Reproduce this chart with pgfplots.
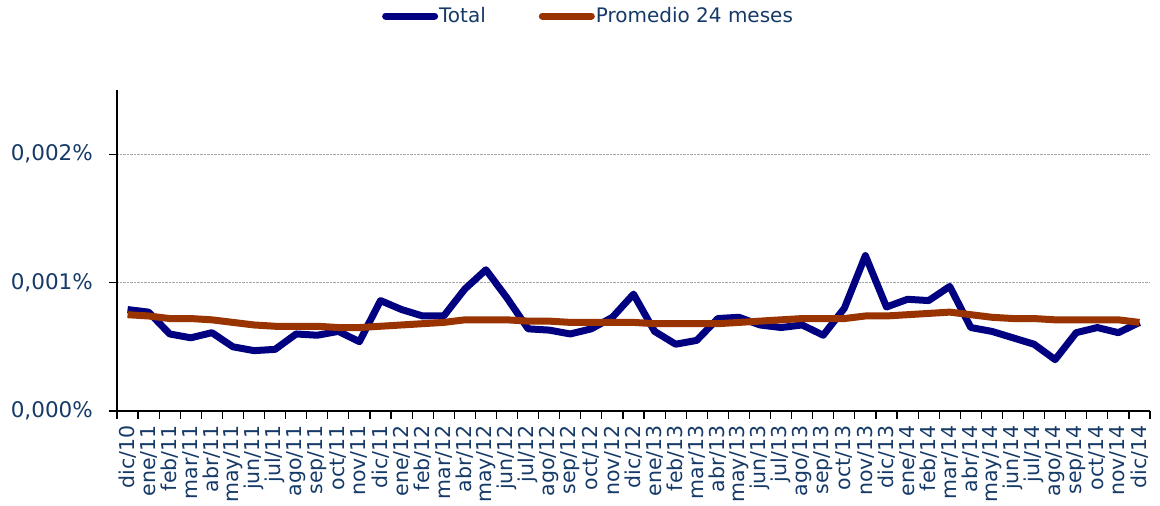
\documentclass[border=0pt]{standalone}
\usepackage{pgfplots}
\pgfplotsset{compat=1.18}
\usepackage{pgfplotstable}
\usepackage{fontspec}
\setmainfont{DejaVu Sans}
\definecolor{labelcol}{RGB}{22,58,104}
\definecolor{totcol}{RGB}{0,0,128}
\definecolor{promcol}{RGB}{153,51,0}
\pgfplotstableread{
x t p
0 0.00079 0.00075
1 0.00077 0.00074
2 0.00060 0.00072
3 0.00057 0.00072
4 0.00061 0.00071
5 0.00050 0.00069
6 0.00047 0.00067
7 0.00048 0.00066
8 0.00060 0.00066
9 0.00059 0.00066
10 0.00062 0.00065
11 0.00054 0.00065
12 0.00086 0.00066
13 0.00079 0.00067
14 0.00074 0.00068
15 0.00074 0.00069
16 0.00095 0.00071
17 0.00110 0.00071
18 0.00088 0.00071
19 0.00064 0.00070
20 0.00063 0.00070
21 0.00060 0.00069
22 0.00064 0.00069
23 0.00073 0.00069
24 0.00091 0.00069
25 0.00062 0.00068
26 0.00052 0.00068
27 0.00055 0.00068
28 0.00072 0.00068
29 0.00073 0.00069
30 0.00067 0.00070
31 0.00065 0.00071
32 0.00067 0.00072
33 0.00059 0.00072
34 0.00080 0.00072
35 0.00121 0.00074
36 0.00081 0.00074
37 0.00087 0.00075
38 0.00086 0.00076
39 0.00097 0.00077
40 0.00065 0.00075
41 0.00062 0.00073
42 0.00057 0.00072
43 0.00052 0.00072
44 0.00040 0.00071
45 0.00061 0.00071
46 0.00065 0.00071
47 0.00061 0.00071
48 0.00069 0.00069
}\datatable
\begin{document}
\begin{tikzpicture}
\useasboundingbox (0,0) rectangle (1160pt,506pt);
\begin{axis}[
  at={(117pt,95pt)}, anchor=south west,
  width=1033pt, height=321pt, scale only axis,
  xmin=-0.5, xmax=48.5, ymin=0, ymax=0.0025,
  axis x line=bottom, axis y line=left,
  axis line style={-, black, line width=1.5pt},
  tick align=outside,
  major tick length=8pt,
  tick style={black, line width=1.2pt},
  xtick={-0.5,0.5,...,48.5},
  xticklabels={},
  extra x ticks={0,1,...,48},
  extra x tick style={major tick length=0pt, grid=none},
  extra x tick labels={dic/10,ene/11,feb/11,mar/11,abr/11,may/11,jun/11,jul/11,ago/11,sep/11,oct/11,nov/11,dic/11,ene/12,feb/12,mar/12,abr/12,may/12,jun/12,jul/12,ago/12,sep/12,oct/12,nov/12,dic/12,ene/13,feb/13,mar/13,abr/13,may/13,jun/13,jul/13,ago/13,sep/13,oct/13,nov/13,dic/13,ene/14,feb/14,mar/14,abr/14,may/14,jun/14,jul/14,ago/14,sep/14,oct/14,nov/14,dic/14},
  xticklabel style={rotate=90, anchor=east, xshift=-12pt, font=\fontsize{20.5}{23}\selectfont},
  ytick={0,0.001,0.002},
  yticklabels={{0,000\%},{0,001\%},{0,002\%}},
  yticklabel style={xshift=-14pt, font=\fontsize{21.5}{24}\selectfont},
  tick label style={text=labelcol, inner sep=2pt},
  scaled y ticks=false,
  ymajorgrids,
  grid style={densely dotted, gray!70, line width=0.8pt},
  legend columns=2,
  legend style={draw=none, fill=none, at={(axis description cs:0.456,1.2305)}, anchor=center,
    font=\fontsize{20}{23}\selectfont, text=labelcol, inner sep=0pt,
    nodes={inner sep=1pt, anchor=west},
    /tikz/every even column/.append style={column sep=52pt}},
  legend image code/.code={\draw[#1, line cap=round] (3pt,0) -- (52pt,0);},
  every axis plot/.append style={line join=round},
]
\addplot[totcol, line width=7pt] table[x=x, y=t] {\datatable};
\addlegendentry{Total}
\addplot[promcol, line width=7pt] table[x=x, y=p] {\datatable};
\addlegendentry{Promedio 24 meses}
\end{axis}
\end{tikzpicture}
\end{document}
